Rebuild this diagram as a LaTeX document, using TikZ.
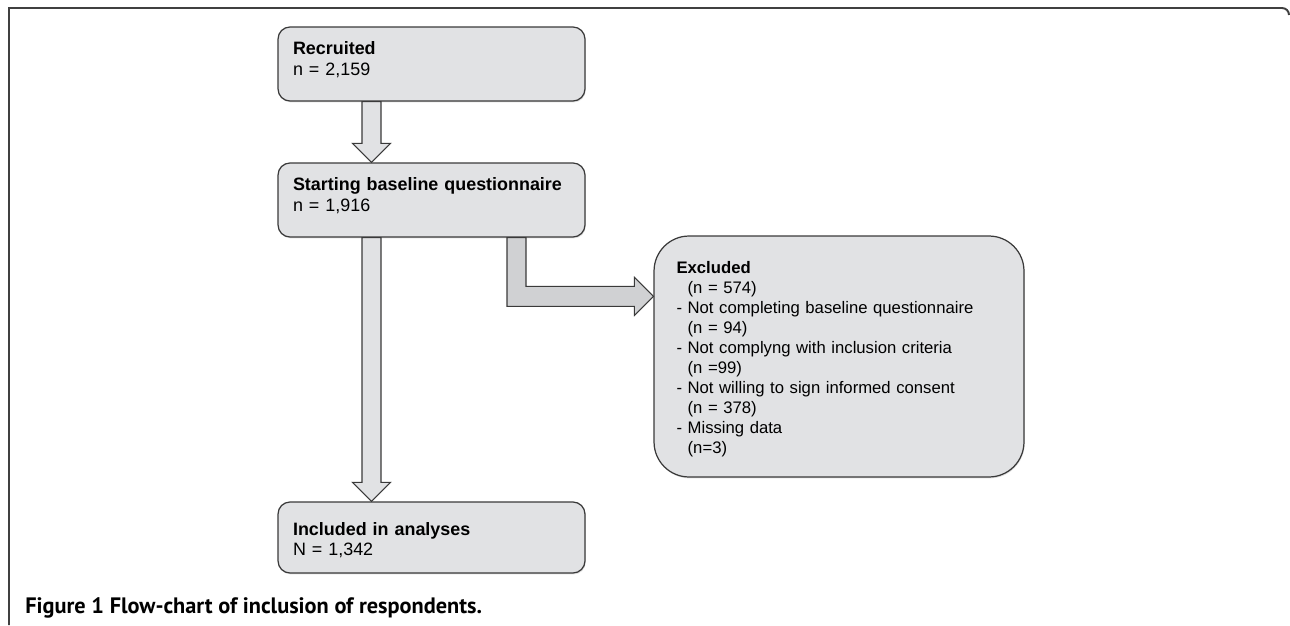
\documentclass[tikz,border=0pt]{standalone}
\usepackage{fontspec}
\setmainfont{Liberation Sans}
\newfontfamily\capfont{PT Sans}
\usetikzlibrary{calc,shadows}

\definecolor{boxfill}{HTML}{E1E2E4}
\definecolor{boxline}{HTML}{3A3A3A}
\definecolor{darkfill}{HTML}{D0D1D3}

\tikzset{
  stage/.style={draw=boxline, line width=0.7pt, fill=boxfill, rounded corners=0.24cm,
    minimum width=6.14cm, minimum height=1.48cm, text width=5.54cm, inner xsep=0.3cm,
    align=left, font=\fontsize{10.2}{0.42cm}\selectfont, text depth=0.64cm,
    drop shadow={shadow xshift=0.4pt, shadow yshift=-0.8pt, opacity=0.25}},
  exclbox/.style={stage, rounded corners=0.7cm, minimum width=7.4cm, minimum height=4.82cm,
    text width=6.5cm, inner xsep=0.44cm, text depth=3.55cm, font=\fontsize{9.5}{0.4cm}\selectfont},
  blockarrow/.style={draw=boxline, line width=0.6pt, fill=boxfill, line join=miter},
  bentarrow/.style={blockarrow, fill=darkfill},
  frame/.style={draw=black!75, line width=1.1pt}
}

% vertical block arrow from #1 down to #2
\newcommand{\vblock}[2]{%
  \filldraw[blockarrow] ($(#1)+(-9.5,0)$) -- ($(#2)+(-9.5,-19)$) -- ($(#2)+(-19,-19)$)
    -- (#2) -- ($(#2)+(19,-19)$) -- ($(#2)+(9.5,-19)$) -- ($(#1)+(9.5,0)$) -- cycle;}

\begin{document}
\begin{tikzpicture}[x=0.02cm, y=-0.02cm]
    \useasboundingbox (0,0) rectangle (1290,625);

    % frame
    \draw[frame] (9,625) |- (1282,8) to[out=0,in=90] (1289,15);

    % boxes
    \node[stage] (rec) at (431.5,64) {\textbf{Recruited}\\n = 2,159};
    \node[stage] (start) at (431.5,200) {\textbf{Starting baseline questionnaire}\\n = 1,916};
    \node[stage, minimum height=1.42cm, text depth=0.36cm] (incl) at (431.5,537.5) {\textbf{Included in analyses}\\N = 1,342};
    \node[exclbox] (excl) at (839,356.5) {\textbf{Excluded}\\
      \hphantom{-~}(n = 574)\\
      - Not completing baseline questionnaire\\
      \hphantom{-~}(n = 94)\\
      - Not complyng with inclusion criteria\\
      \hphantom{-~}(n =99)\\
      - Not willing to sign informed consent\\
      \hphantom{-~}(n = 378)\\
      - Missing data\\
      \hphantom{-~}(n=3)};

    % arrows
    \coordinate (r1) at ($(rec.south)+(-60,0)$);
    \coordinate (s1) at ($(start.north)+(-60,0)$);
    \coordinate (s2) at ($(start.south)+(-60,0)$);
    \coordinate (i1) at ($(incl.north)+(-60,0)$);
    \vblock{r1}{s1}
    \vblock{s2}{i1}

    \coordinate (b1) at ($(start.south)+(85,0)$);
    \coordinate (b2) at ($(excl.north west)+(0,61)$);
    \filldraw[bentarrow] ($(b1)+(-9.5,0)$) |- ($(b2)+(-19,10)$) -- ($(b2)+(-19,19)$)
      -- (b2) -- ($(b2)+(-19,-19)$) -- ($(b2)+(-19,-10)$) -| ($(b1)+(9.5,0)$) -- cycle;

    % caption
    \node[anchor=base west, inner sep=0pt, font=\capfont\bfseries\fontsize{12.7}{14}\selectfont]
      (cap) at (25,613) {Figure 1 Flow-chart of inclusion of respondents.};
\end{tikzpicture}
\end{document}
